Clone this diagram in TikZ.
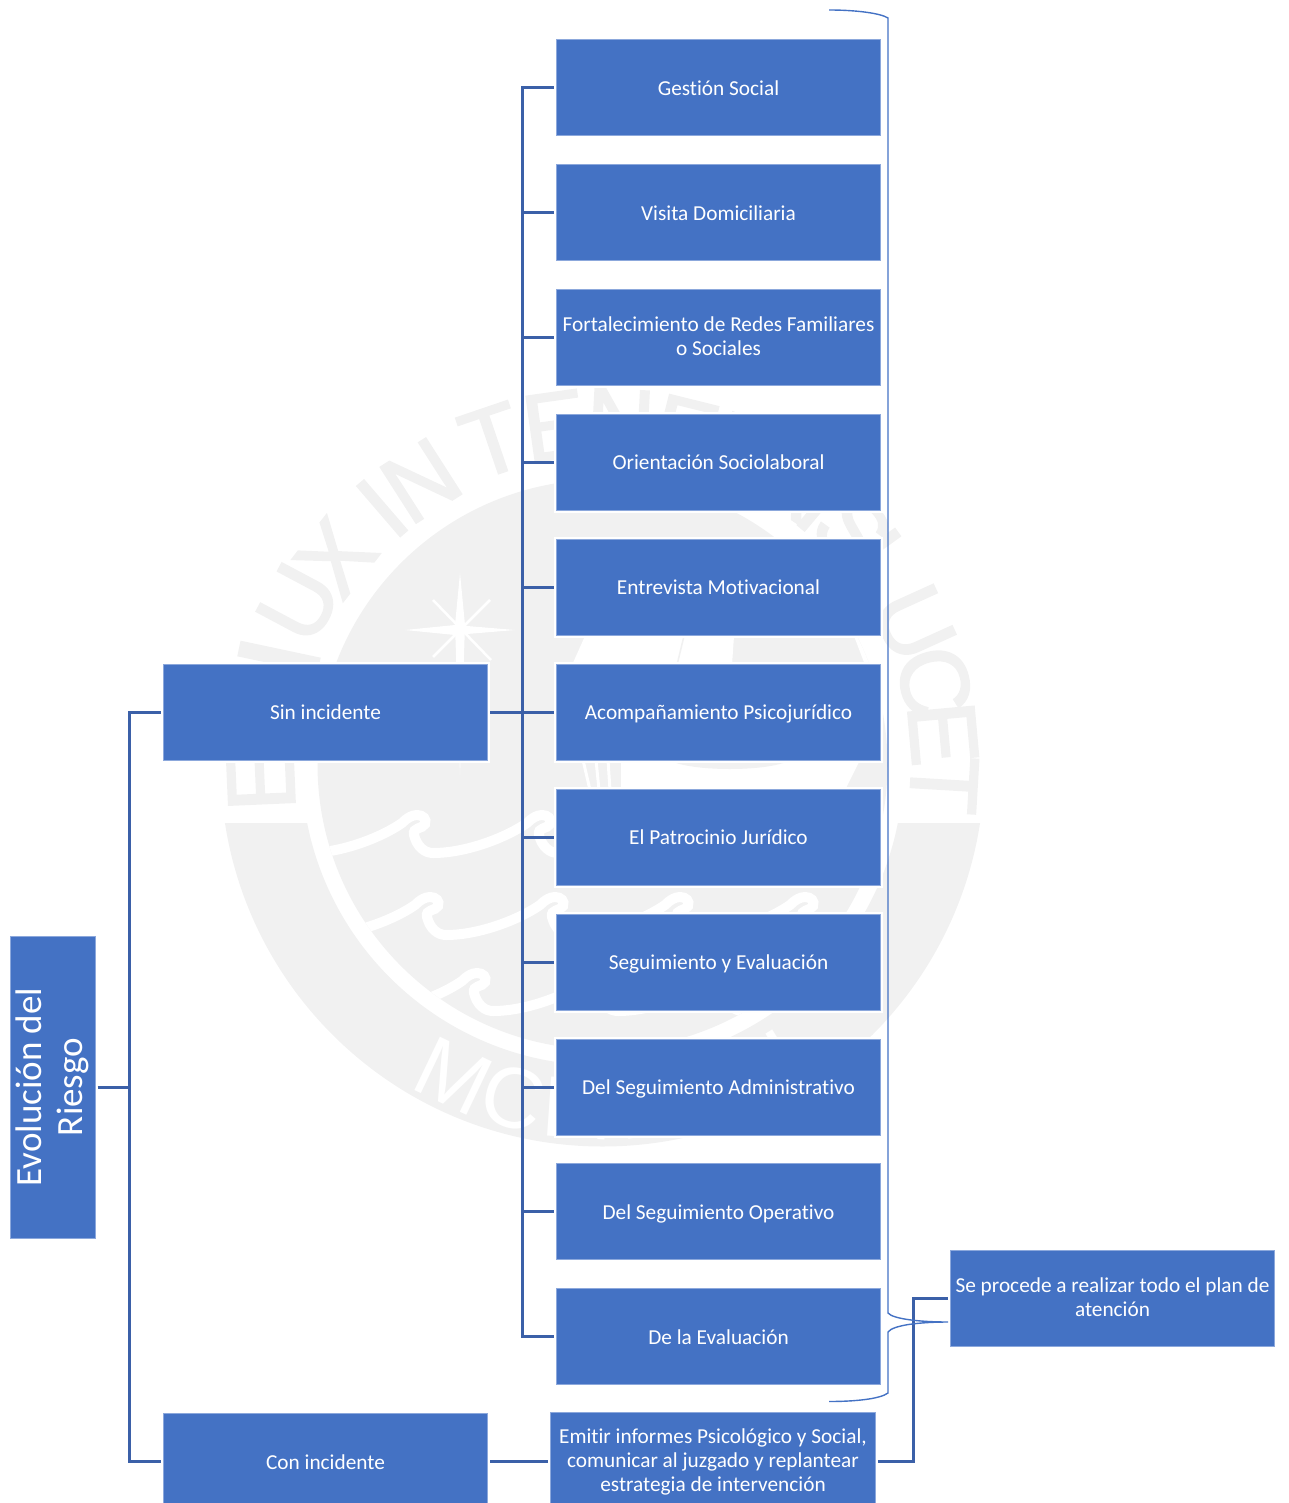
\documentclass[tikz,border=0pt]{standalone}
\usepackage{fontspec}
\setmainfont{Carlito}[Ligatures=NoCommon]
\newfontfamily\sealfont[FakeBold=2]{Liberation Sans}
\newfontfamily\seallowfont{Liberation Sans}
\usetikzlibrary{calc}
\definecolor{boxblue}{HTML}{4472C4}
\definecolor{boxedge}{HTML}{8CA8DC}
\definecolor{linkblue}{HTML}{3B60A8}
\definecolor{seal}{HTML}{F1F1F1}
\newcommand{\linestrut}{\rule[-4.5pt]{0pt}{24pt}}
\newcommand{\manystrut}{\rule[-3pt]{0pt}{24pt}}
\tikzset{
  boxbase/.style={rectangle,fill=boxblue,draw=boxedge,line width=0.8pt,text=white,align=center,
    inner sep=0pt,outer sep=2.5pt,minimum width=324.5pt,minimum height=96pt,
    font=\fontsize{21.3}{24}\selectfont,
    preaction={draw=white,line width=5pt}},
  boxtext/.style={boxbase,execute at begin node=\linestrut,execute at end node=\linestrut},
  boxmany/.style={boxbase,execute at begin node=\manystrut,execute at end node=\manystrut},
  link/.style={draw=linkblue,line width=3pt,line join=miter},
  brace/.style={draw=boxblue,line width=1.4pt},
  upletter/.style={text=seal,inner sep=0pt,font=\sealfont\fontsize{96}{96}\selectfont},
  lowletter/.style={text=white,inner sep=0pt,font=\seallowfont\fontsize{86}{86}\selectfont},
}
\newcommand{\sealup}[3]{\node[upletter,rotate=#2-90] at ({602.5+#3*cos(#2)},{764.5-#3*sin(#2)}) {#1};}
\newcommand{\seallow}[3]{\node[lowletter,rotate=#2-270] at ({602.5+#3*cos(#2)},{764.5-#3*sin(#2)}) {#1};}
\newcommand{\waveline}[2]{%
  \foreach \k in {-1,0,1,2,3}{
    \begin{scope}[shift={({#1+125*\k},#2)}]
      \draw[white,line width=10pt,line cap=round] (0,0) .. controls (6,0) and (10,4) .. (8,9) .. controls (6,14) and (-5,12) .. (-3,20) .. controls (0,32) and (8,38) .. (16,38) .. controls (50,38) and (90,22) .. (110,8) .. controls (115,3) and (120,0) .. (125,0);
    \end{scope}}}
\begin{document}
\begin{tikzpicture}[x=1pt,y=-1pt]
\useasboundingbox (0,0) rectangle (1288,1503);
\clip (0,0) rectangle (1288,1503);
% ---- seal in the background
\coordinate (sc) at (602.5,764.5);
\fill[seal] (sc) circle[radius=285];
\begin{scope}
  \clip (0,823) rectangle (1288,1503);
  \fill[seal,even odd rule] (sc) circle[radius=382] (sc) circle[radius=301];
\end{scope}
\sealup{E}{182.5}{342}
\fill[seal,rotate around={-12:(279,657)}] (238,649) rectangle (320,665);
\sealup{U}{152}{344}
\sealup{X}{142.2}{338}
\sealup{I}{130.7}{338}
\sealup{N}{122.6}{337}
\sealup{T}{108.8}{342}
\sealup{E}{98}{342}
\sealup{N}{87}{342}
\sealup{E}{76}{342}
\sealup{B}{66}{342}
\sealup{R}{56}{342}
\sealup{I}{50}{342}
\sealup{S}{43}{342}
\sealup{L}{36}{342}
\sealup{U}{24.4}{342}
\sealup{C}{14}{342}
\sealup{E}{5.2}{342}
\sealup{T}{-3.4}{342}
\seallow{M}{244.5}{345}
\seallow{C}{255}{345}
\seallow{M}{266}{345}
\seallow{X}{278}{345}
\seallow{V}{289}{345}
\seallow{I}{297}{345}
\seallow{I}{302}{345}
\begin{scope}
  \clip (sc) circle[radius=285];
  \waveline{417}{815}
  \waveline{430}{897}
  \waveline{477}{973}
  % white fields of the shield
  \fill[white] (585,636) -- (734,636) -- (732,665) -- (572,665) -- cycle;
  \draw[seal,line width=1.5pt] (684,636) -- (677,665);
  \fill[white] (854,636) -- (895,636) -- (895,665) -- (865,665) -- cycle;
  \fill[seal] (876,636) -- (890,636) -- (890,646) -- cycle;
  \fill[white] (621,760) -- (860,760) -- (845,790) -- (621,790) -- cycle;
  \draw[white,line width=3pt] (583,760) -- (590,790) (596,760) -- (599,790) (608,760) -- (610,790);
  \fill[seal] (669,760) -- (790,760) .. controls (770,772) and (690,772) .. cycle;
  \draw[white,line width=6pt] (780,516) -- (792,532);
  \draw[white,line width=3pt] (830,514) -- (830,533);
  % star
  \fill[white] (460,573) -- (465,625) -- (460,775) -- (455,625) -- cycle;
  \fill[white] (405,630) -- (455,625) -- (515,630) -- (455,635) -- cycle;
  \draw[white,line width=2.5pt] (433,600) -- (491,660) (490,600) -- (433,657);
\end{scope}
% ---- nodes
\node[boxtext] (b1)  at (718.5,87.7)    {Gestión Social};
\node[boxtext] (b2)  at (718.5,212.6)   {Visita Domiciliaria};
\node[boxmany] (b3)  at (718.5,337.5)   {Fortalecimiento de Redes Familiares\\o Sociales};
\node[boxtext] (b4)  at (718.5,462.4)   {Orientación Sociolaboral};
\node[boxtext] (b5)  at (718.5,587.3)   {Entrevista Motivacional};
\node[boxtext] (b6)  at (718.5,712.4)   {Acompañamiento Psicojurídico};
\node[boxtext] (b7)  at (718.5,837.3)   {El Patrocinio Jurídico};
\node[boxtext] (b8)  at (718.5,962.2)   {Seguimiento y Evaluación};
\node[boxtext] (b9)  at (718.5,1087.2)  {Del Seguimiento Administrativo};
\node[boxtext] (b10) at (718.5,1211.8)  {Del Seguimiento Operativo};
\node[boxtext] (b11) at (718.5,1336.7)  {De la Evaluación};
\node[boxtext] (sin)  at (325.5,712.4)  {Sin incidente};
\node[boxtext] (con)  at (325.5,1461.5) {Con incidente};
\node[boxmany,minimum height=98pt] (emit) at (713,1461.5) {Emitir informes Psicológico y Social,\\comunicar al juzgado y replantear\\estrategia de intervención};
\node[boxmany] (se)   at (1112.5,1298.5) {Se procede a realizar todo el plan de\\atención};
\node[boxbase,minimum width=302pt,minimum height=85pt,rotate=90,font=\fontsize{37}{41}\selectfont,execute at begin node={\rule{0pt}{30pt}}] (evo) at (52.5,1087) {Evolución del\\Riesgo};
% ---- connectors
\coordinate (lt) at (129,1087);
\coordinate (rt) at (522,712.4);
\coordinate (jog) at (913,1400);
\coordinate (bt) at (829,10);
\coordinate (bb) at (829,1401.5);
\coordinate (tip) at (948,1322);
\draw[link] (evo.south) -- (lt) |- (sin.west);
\draw[link] (lt) |- (con.west);
\draw[link] (sin.east) -- (rt);
\foreach \n in {b1,b2,b3,b4,b5,b6,b7,b8,b9,b10,b11}{
  \draw[link] (rt) |- (\n.west);
}
\draw[link] (con.east) -- (emit.west);
\draw[link] (emit.east) -| (jog) |- (se.west);
\draw[brace] (bt) .. controls (855,10) and (880,13) .. (888,18) -- (888,1313) .. controls (893,1319) and (920,1322) .. (tip) .. controls (920,1322) and (893,1325) .. (888,1332) -- (888,1393) .. controls (880,1399) and (855,1401.5) .. (bb);
\end{tikzpicture}
\end{document}
